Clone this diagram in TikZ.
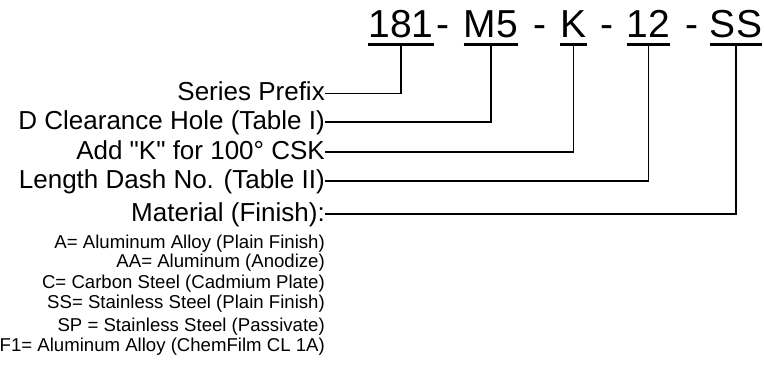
\documentclass[tikz,border=0pt]{standalone}
\usepackage{fontspec}
\setmainfont{Liberation Sans}[Ligatures=TeXOff]
\usepackage{tikz}

\begin{document}
\begin{tikzpicture}[x=1pt,y=-1pt,
    code/.style={anchor=base, inner xsep=0pt, inner ysep=7.5pt, text depth=0pt,
        font=\fontsize{39}{39}\selectfont},
    sep/.style={anchor=base, inner sep=0pt, font=\fontsize{39}{39}\selectfont},
    lbl/.style={anchor=base east, inner sep=0pt, text height=14pt, text depth=0pt,
        font=\fontsize{26}{26}\selectfont},
    opt/.style={anchor=base east, inner sep=0pt, font=\fontsize{18.6}{18.6}\selectfont},
    uline/.style={line width=3.5pt},
    lead/.style={line width=1.6pt}]

    \useasboundingbox (0,0) rectangle (764,376);

    % ================= PART NUMBER =================
    \node[code] (c181) at (401,37) {181};
    \node[sep]  (s1)   at (443,37) {-};
    \node[code] (cm5)  at (491,37) {M5};
    \node[sep]  (s2)   at (540,37) {-};
    \node[code] (ck)   at (573.5,37) {K};
    \node[sep]  (s3)   at (607,37) {-};
    \node[code] (c12)  at (648.5,37) {12};
    \node[sep]  (s4)   at (692,37) {-};
    \node[code] (css)  at (736,37) {SS};

    % underlines
    \foreach \c in {c181,cm5,ck,c12,css}
        \draw[uline] (\c.south west) -- (\c.south east);

    % ================= LABELS =================
    \node[lbl] (lseries) at (325,100.5) {Series Prefix};
    \node[lbl] (lhole)   at (325,129)   {D Clearance Hole (Table I)};
    \node[lbl] (lcsk)    at (325,159)   {Add "K" for 100° CSK};
    \node[lbl] (llength) at (325,188)   {Length Dash No. (Table II)};
    \node[lbl] (lmat)    at (325,221)   {Material (Finish):};

    % leader lines
    \draw[lead] (lseries.east) -| (c181.south);
    \draw[lead] (lhole.east)   -| (cm5.south);
    \draw[lead] (lcsk.east)    -| (ck.south);
    \draw[lead] (llength.east) -| (c12.south);
    \draw[lead] (lmat.east)    -| (css.south);

    % ================= MATERIAL OPTIONS =================
    \node[opt] (ma)  at (325,248) {A= Aluminum Alloy (Plain Finish)};
    \node[opt] (maa) at (325,267) {AA= Aluminum (Anodize)};
    \node[opt] (mc)  at (325,288) {C= Carbon Steel (Cadmium Plate)};
    \node[opt] (mss) at (325,308) {SS= Stainless Steel (Plain Finish)};
    \node[opt] (msp) at (325,331) {SP = Stainless Steel (Passivate)};
    \node[opt] (mf)  at (325,351) {F1= Aluminum Alloy (ChemFilm CL 1A)};

\end{tikzpicture}
\end{document}
